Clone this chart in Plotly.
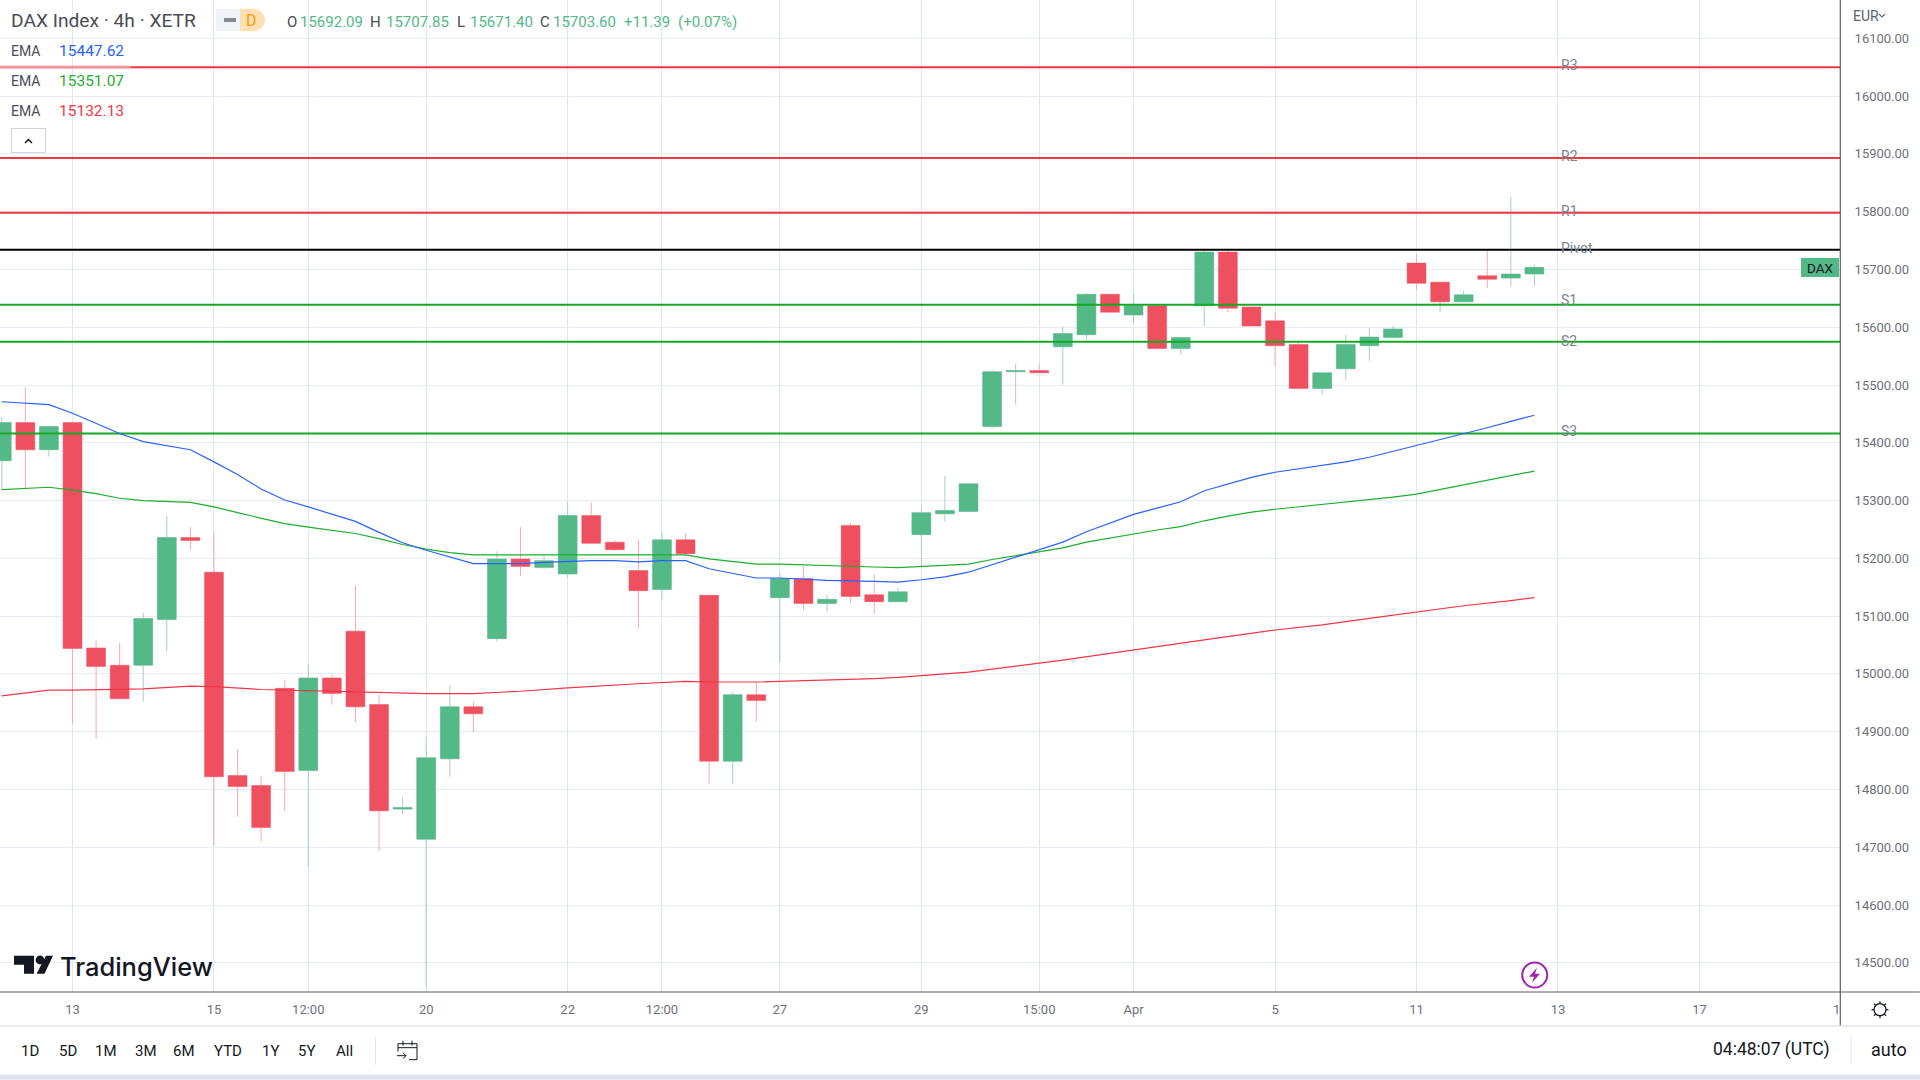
import plotly.graph_objects as go
import math

# ---------- data ----------
opens = [15369,15435,15388,15435,15045,15015,15015,15094,15236,15176,14824,14807,14975,14833,14993,15074,14947,14766,14714,14853,14943,15061,15199,15184,15173,15274,15228,15179,
         15146,15232,15136,14849,14964,15132,15165,15122,15257,15137,15125,15241,15277,15281,
         15428,15523,15525,15566,15587,15657,15621,15637,15563,15637,15730,15635,15611,15570,15494,15528,15568,15582,15711,15678,15644,15689,15685,15692.09]
highs = [15445,15496,15428,15436,15058,15054,15106,15273,15254,15247,14869,14824,14990,15018,14999,15153,14964,14786,14891,14980,14952,15212,15254,15205,15298,15297,15231,15232,
         15245,15243,15136,14969,14986,15175,15186,15137,15261,15172,15148,15288,15343,15329,
         15526,15537,15537,15601,15659,15657,15659,15637,15582,15736,15736,15635,15626,15575,15521,15587,15599,15602,15726,15678,15663,15733,15826,15707.85]
lows = [15318,15321,15376,14914,14888,14957,14952,15039,15215,14702,14753,14710,14763,14666,14947,14917,14694,14758,14459,14822,14899,15056,15170,15182,15167,15226,15213,15078,
        15129,15204,14810,14810,14917,15020,15111,15108,15122,15104,15125,15186,15264,15281,
        15425,15466,15521,15501,15578,15626,15606,15563,15554,15602,15626,15602,15532,15494,15483,15509,15542,15582,15664,15626,15644,15668,15670,15671.40]
closes = [15435,15388,15428,15044,15013,14957,15096,15236,15231,14822,14805,14734,14831,14993,14966,14943,14763,14769,14855,14943,14931,15199,15186,15196,15274,15226,15215,15144,
          15232,15208,14849,14964,14954,15165,15122,15129,15134,15125,15142,15279,15283,15329,
          15523,15525,15521,15589,15657,15626,15637,15563,15582,15730,15633,15602,15568,15494,15521,15570,15583,15597,15676,15644,15656,15683,15692,15703.60]
bar_index = list(range(len(opens)))

ema_blue_i = [0,2,3,5,6,8,9,10,11,12,13,14,15,16,17,18,19,20,21,22,23,24,25,26,27,28,29,30,32,33,35,37,38,39,40,41,42,43,44,45,46,47,48,49,50,51,52,53,54,55,56,57,58,59,60,61,62,63,64,65]
ema_blue = [15471,15466,15451,15416,15402,15388,15367,15345,15320,15301,15289,15277,15264,15245,15227,15214,15202,15191,15191,15191,15193,15195,15196,15196,15194,15196,15196,15182,15166,15166,15162,15160,15159,15163,15168,15176,15189,15202,15214,15228,15246,15261,15276,15287,15298,15317,15329,15340,15349,15355,15361,15367,15375,15385,15396,15405,15415,15426,15437,15447.62]
ema_green_i = [0,2,3,4,5,6,8,9,10,11,12,13,14,15,16,17,18,19,20,21,22,23,24,25,26,27,28,29,30,32,33,35,37,38,39,40,41,42,43,44,45,46,47,48,49,50,51,52,53,54,55,56,57,58,59,60,61,62,63,64,65]
ema_green = [15319,15323,15318,15312,15304,15300,15297,15289,15279,15269,15260,15254,15249,15243,15234,15224,15216,15210,15206,15206,15206,15206,15207,15207,15207,15206,15206,15206,15199,15190,15190,15187,15185,15184,15186,15188,15190,15198,15205,15211,15218,15228,15235,15243,15249,15255,15265,15273,15280,15285,15289,15293,15297,15301,15306,15311,15319,15327,15335,15343,15351.07]
ema_red_i = [0,2,3,6,8,9,11,12,13,14,15,16,18,20,22,24,26,27,29,30,32,33,37,38,39,41,45,48,51,54,56,58,60,62,64,65]
ema_red = [14962,14972,14972,14974,14979,14978,14973,14972,14972,14971,14970,14968,14966,14966,14970,14976,14981,14983,14987,14986,14986,14987,14992,14994,14997,15003,15024,15042,15059,15076,15085,15096,15107,15118,15127,15132.13]

pivot_names = ["R3","R2","R1","Pivot","S1","S2","S3"]
pivot_levels = [16050,15893,15798,15734,15639,15575,15416]
pivot_colors = ["#f23645","#f23645","#f23645","#000000","#14a825","#14a825","#14a825"]

x_tick_pos = [3,9,13,18,24,28,33,39,44,48,54,60,66,72,78]
x_tick_text = ["13","15","12:00","20","22","12:00","27","29","15:00","Apr","5","11","13","17",""]
y_ticks = list(range(14500,16101,100))
range_buttons = ["1D","5D","1M","3M","6M","YTD","1Y","5Y","All"]

# ---------- layout helpers (pixel -> paper, for chart furniture only) ----------
PW, PH = 1840.0, 992.3
X = lambda p: p / PW
Y = lambda p: 1 - p / PH
FONT = "Roboto"
shapes, annos = [], []

def text(px, py, s, size=13, color="#131722", anchor="left", family=FONT, weight=None):
    f = dict(size=size, color=color, family=family)
    if weight: f["weight"] = weight
    annos.append(dict(xref="paper", yref="paper", x=X(px), y=Y(py), text=s, showarrow=False,
                      xanchor=anchor, yanchor="middle", font=f, borderpad=0, borderwidth=0))

def rect(x0, y0, x1, y1, fill, line=None, lw=0, layer="above"):
    shapes.append(dict(type="rect", xref="paper", yref="paper", x0=X(x0), x1=X(x1), y0=Y(y0), y1=Y(y1),
                       fillcolor=fill, line=dict(color=line or "rgba(0,0,0,0)", width=lw), layer=layer))

def path(pts, fill=None, line=None, lw=0, close=False):
    d = "M" + " L".join(f"{X(a):.6f},{Y(b):.6f}" for a, b in pts) + (" Z" if close else "")
    shapes.append(dict(type="path", xref="paper", yref="paper", path=d, fillcolor=fill or "rgba(0,0,0,0)",
                       line=dict(color=line or "rgba(0,0,0,0)", width=lw), layer="above"))

def circle(cx, cy, r, fill=None, line=None, lw=0):
    shapes.append(dict(type="circle", xref="paper", yref="paper", x0=X(cx-r), x1=X(cx+r), y0=Y(cy-r), y1=Y(cy+r),
                       fillcolor=fill or "rgba(0,0,0,0)", line=dict(color=line or "rgba(0,0,0,0)", width=lw), layer="above"))

# ---------- traces ----------
fig = go.Figure()
x_lo, x_hi = -0.075, 77.96
for name, lvl, col in zip(pivot_names, pivot_levels, pivot_colors):
    fig.add_trace(go.Scatter(x=[x_lo, x_hi], y=[lvl, lvl], mode="lines", line=dict(color=col, width=2), hoverinfo="skip"))
for xs, ys, col in [(ema_red_i, ema_red, "#f23645"), (ema_green_i, ema_green, "#1fae2e"), (ema_blue_i, ema_blue, "#2962ff")]:
    fig.add_trace(go.Scatter(x=xs, y=ys, mode="lines", line=dict(color=col, width=1.2), hoverinfo="skip"))

GREEN, RED = "#53b987", "#ef5060"
GREEN_W, RED_W = "#a8cfc9", "#f7a9b3"
fig.add_trace(go.Candlestick(x=bar_index, open=opens, high=highs, low=lows, close=closes, whiskerwidth=0,
                             increasing=dict(line=dict(color=GREEN_W, width=1), fillcolor=GREEN_W),
                             decreasing=dict(line=dict(color=RED_W, width=1), fillcolor=RED_W), hoverinfo="skip"))
fig.add_trace(go.Candlestick(x=bar_index, open=opens, close=closes,
                             high=[max(o, c) for o, c in zip(opens, closes)],
                             low=[min(o, c) for o, c in zip(opens, closes)], whiskerwidth=0,
                             increasing=dict(line=dict(color=GREEN, width=0), fillcolor=GREEN),
                             decreasing=dict(line=dict(color=RED, width=0), fillcolor=RED), hoverinfo="skip"))

# ---------- header ----------
GREY_T, GT = "#4a4d57", "#53b987"
text(11, 21, "DAX Index · 4h · XETR", 19.2, "#4a4d57")
rect(216, 9, 240, 31, "#f0f3fa")
circle(227, 20, 11, fill="#f0f3fa")
rect(240, 9, 254, 31, "#ffe0b2")
circle(254, 20, 11, fill="#ffe0b2")
rect(224, 18, 236, 22, "#868993")
text(252, 20.5, "D", 16, "#ff9800", "center")
for px, s, c in [(286.5,"O",GREY_T),(300,"15692.09",GT),(370,"H",GREY_T),(386,"15707.85",GT),(457,"L",GREY_T),
                 (470,"15671.40",GT),(540,"C",GREY_T),(553,"15703.60",GT),(624,"+11.39",GT),(678,"(+0.07%)",GT)]:
    text(px, 22, s, 15, c)

# the legend row lightens the R3 line behind it
rect(0, 65.8, 131, 68.2, "#f6929c")
for py, val, col in [(51,"15447.62","#2962ff"),(81,"15351.07","#1fae2e"),(111.5,"15132.13","#f23645")]:
    text(11, py, "EMA", 14, "#4a4d57")
    text(59, py, val, 15.5, col)
rect(11.5, 128.5, 45.5, 152.5, "#ffffff", line="#d1d4dc", lw=1)
path([(25,143),(28.5,139.5),(32,143)], line="#131722", lw=1.5)

for name, py in zip(pivot_names, [65,156.5,211.5,248,300.5,341.5,431]):
    text(1561, py, name, 14, "#7b8496")

# ---------- chart furniture ----------
rect(1801, 258, 1839, 277, GT)
text(1820, 268, "DAX", 13.5, "#131722", "center")
text(1853, 16, "EUR", 14, "#5b6270")
path([(1879,14),(1882,17),(1885,14)], line="#5b6270", lw=1.2)

# axis frame
path([(0,992.3),(1920,992.3)], line="#5d606b", lw=1.2)
path([(1840.3,0),(1840.3,1026)], line="#5d606b", lw=1.2)
rect(0, 1025.5, 1920, 1027, "#e0e3eb")
rect(0, 1075, 1920, 1080, "#e0e3eb")
text(1840, 1009.5, "1", 13, "#6e717b", "right")

# gear
circle(1880, 1010, 6, line="#131722", lw=1.3)
for k in range(8):
    a = k*math.pi/4
    path([(1880+6*math.cos(a),1010+6*math.sin(a)),(1880+8.5*math.cos(a),1010+8.5*math.sin(a))], line="#131722", lw=1.2)

# lightning icon
circle(1534.7, 975.3, 12.5, line="#9c27b0", lw=2)
path([(1537,968),(1529,977),(1534,977),(1532,983),(1540,974),(1535,974)], fill="#9c27b0", close=True)

# TradingView mark
path([(14,956),(34,956),(34,974),(24,974),(24,965),(14,965)], fill="#131722", close=True)
circle(40, 960.3, 4.4, fill="#131722")
path([(46,956),(53,956),(44.5,974),(36.5,974)], fill="#131722", close=True)
text(60, 966.5, "TradingView", 25.5, "#131722", family="Inter", weight=500)

# footer
for px, b in zip([30,67.5,106,145.5,184,228,270,306.5,344.5], range_buttons):
    text(px, 1051.5, b, 15, "#131722", "center")
rect(375, 1037, 376, 1065, "#e0e3eb")
path([(398,1044),(417,1044),(417,1060),(409,1060)], line="#131722", lw=1)
path([(398,1052),(398,1044)], line="#131722", lw=1)
path([(398,1048),(417,1048)], line="#131722", lw=1)
path([(403,1041),(403,1046)], line="#131722", lw=1)
path([(412,1041),(412,1046)], line="#131722", lw=1)
path([(397,1056),(406,1056)], line="#131722", lw=1)
path([(403,1053),(406,1056),(403,1059)], line="#131722", lw=1)
text(1771, 1050, "04:48:07 (UTC)", 17.5, "#131722", "center")
rect(1850.5, 1037, 1851.5, 1065, "#e0e3eb")
text(1889, 1050, "auto", 18, "#131722", "center")

fig.update_layout(
    width=1920, height=1080, autosize=False,
    margin=dict(l=0, r=80, t=0, b=88, pad=0),
    paper_bgcolor="#ffffff", plot_bgcolor="#ffffff",
    showlegend=False, boxmode="overlay", boxgap=0.2, boxgroupgap=0,
    font=dict(family=FONT, color="#6e717b", size=13),
    shapes=shapes, annotations=annos,
    xaxis=dict(range=[x_lo, x_hi], tickmode="array", tickvals=x_tick_pos, ticktext=x_tick_text,
               showgrid=True, gridcolor="#dde9ef", gridwidth=1, zeroline=False, showline=False,
               rangeslider=dict(visible=False), ticks="outside", ticklen=5, tickcolor="rgba(0,0,0,0)",
               tickfont=dict(family=FONT, size=13, color="#6e717b"), fixedrange=True),
    yaxis=dict(range=[14449.5, 16166.3], side="right", tickmode="array", tickvals=y_ticks,
               ticktext=[f"{v:.2f}" for v in y_ticks],
               showgrid=True, gridcolor="#e6ecf2", gridwidth=1, zeroline=False, showline=False,
               ticks="outside", ticklen=11, tickcolor="rgba(0,0,0,0)",
               tickfont=dict(family=FONT, size=13, color="#6e717b"), fixedrange=True),
)

fig.write_html("out.html", config=dict(displayModeBar=False),
               post_script="document.body.style.margin='0';document.documentElement.style.overflow='hidden';")
